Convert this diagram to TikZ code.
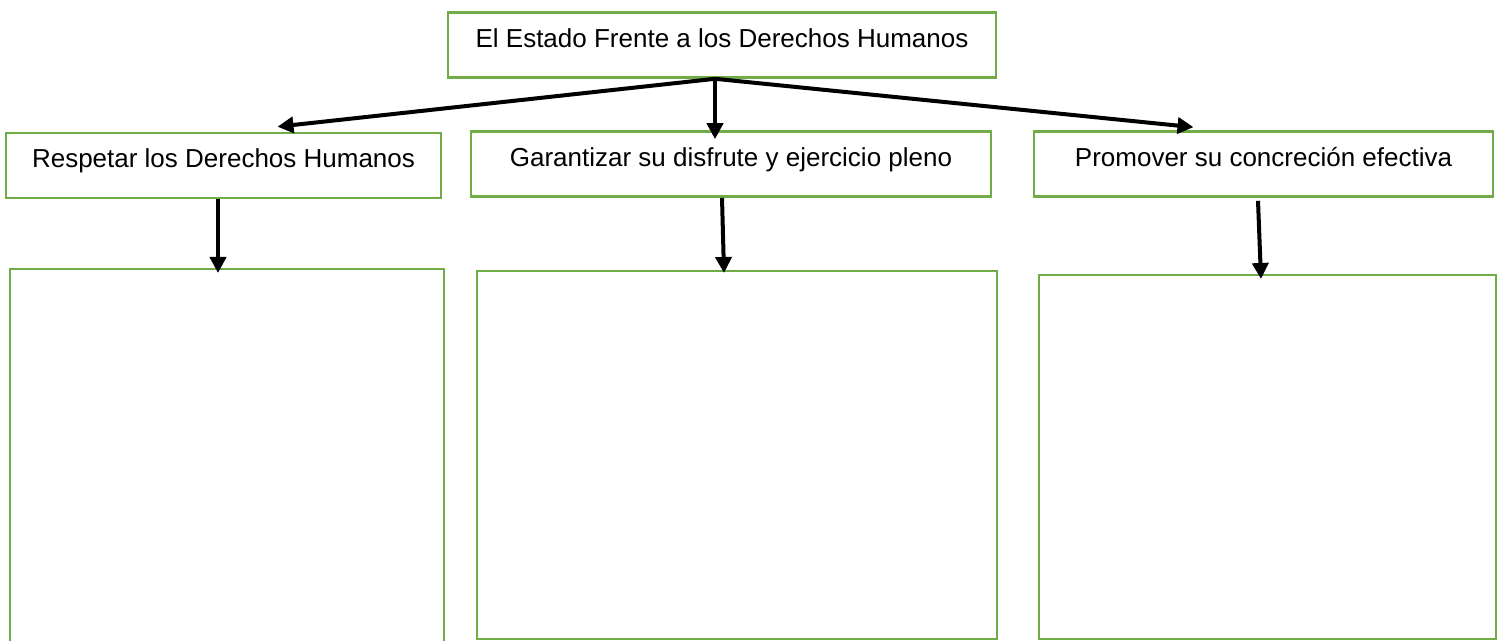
\documentclass[tikz,border=0pt]{standalone}
\usepackage{fontspec}
\setmainfont{Liberation Sans}
\usetikzlibrary{arrows.meta}
\definecolor{leafgreen}{HTML}{70AD47}
\begin{document}
\begin{tikzpicture}[x=0.5pt, y=-0.5pt,
        every node/.style={font=\fontsize{13}{15}\selectfont},
        titlebox/.style={draw=leafgreen, line width=1.3pt, inner xsep=0pt, inner ysep=0pt,
            text height=17.5pt, text depth=15pt, align=center},
        answerbox/.style={draw=leafgreen, line width=1pt, inner sep=0pt},
        arr/.style={-{Triangle[length=8pt, width=8pt]}, line width=2pt}]
            \clip (0,0) rectangle (1497,641);

            % Draw the title box
            \node[titlebox, minimum width=274pt] (estado) at (722,45) {El Estado Frente a los Derechos Humanos};

            % Draw the three duties
            \node[titlebox, minimum width=217.5pt] (resp) at (223.5,165.5) {Respetar los Derechos Humanos};
            \node[titlebox, minimum width=260pt] (gar) at (731,164) {Garantizar su disfrute y ejercicio pleno};
            \node[titlebox, minimum width=229.5pt] (prom) at (1263.5,164) {Promover su concreción efectiva};

            % Draw the empty boxes below
            \node[answerbox, minimum width=217pt, minimum height=195.5pt] (boxA) at (227,464.5) {};
            \node[answerbox, minimum width=260pt, minimum height=184pt] (boxB) at (737,455) {};
            \node[answerbox, minimum width=228.5pt, minimum height=182pt] (boxC) at (1267.5,457) {};

            % Draw the arrows from the title
            \coordinate (split) at ([xshift=-3.5pt]estado.south);
            \draw[arr] (split) -- ([xshift=27pt, yshift=2.5pt]resp.north);
            \draw[arr] (split) -- ([xshift=-8pt, yshift=-4.5pt]gar.north);
            \draw[arr] (split) -- ([xshift=-35pt, yshift=1.5pt]prom.north);

            % Draw the arrows down to the boxes
            \draw[arr] ([xshift=-2.75pt]resp.south) -- ([xshift=-4.5pt, yshift=-2.5pt]boxA.north);
            \draw[arr] ([xshift=-4.5pt]gar.south) -- ([xshift=-6.5pt, yshift=-1.5pt]boxB.north);
            \draw[arr] ([xshift=-2.75pt, yshift=-1.5pt]prom.south) -- ([xshift=-3.25pt, yshift=-2.5pt]boxC.north);
\end{tikzpicture}
\end{document}
